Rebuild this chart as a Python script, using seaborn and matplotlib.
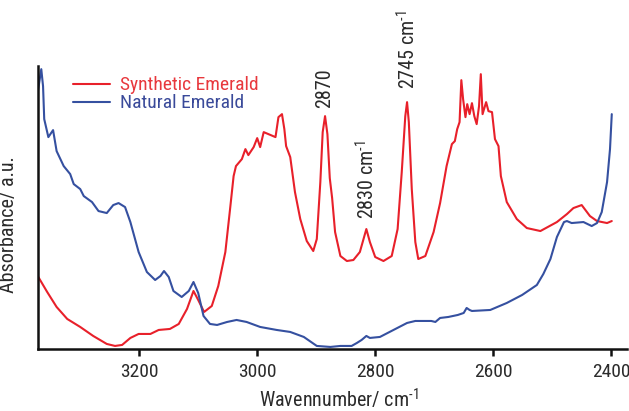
import matplotlib
matplotlib.use("Agg")
import matplotlib.pyplot as plt
from matplotlib import font_manager as fm
import seaborn as sns
import pandas as pd

# Synthetic emerald (red)
syn_wn = [3372, 3356, 3340, 3322, 3300, 3278, 3255, 3241, 3229, 3215, 3201, 3181, 3167, 3148,
          3133, 3119, 3108, 3100, 3090, 3077, 3066, 3054, 3046, 3040, 3036, 3026, 3020, 3015,
          3006, 3000, 2995, 2989, 2981, 2969, 2964, 2958, 2954, 2951, 2944, 2936, 2927, 2916,
          2905, 2899, 2893, 2889, 2885, 2881, 2877, 2873, 2868, 2859, 2848, 2837, 2826, 2815,
          2809, 2800, 2786, 2772, 2762, 2755, 2749, 2746, 2743, 2738, 2732, 2727, 2715, 2701,
          2690, 2679, 2670, 2665, 2661, 2657, 2654, 2651, 2647, 2644, 2640, 2636, 2632, 2628,
          2624, 2621, 2618, 2612, 2608, 2602, 2597, 2591, 2587, 2577, 2560, 2543, 2520, 2492,
          2475, 2464, 2450, 2436, 2424, 2407, 2399]
syn_abs = [72, 56, 41, 29, 21, 12, 4, 2, 3, 10, 14, 14, 18, 19,
           24, 39, 57, 48, 36, 42, 62, 96, 139, 172, 182, 189, 199, 193,
           201, 210, 201, 216, 214, 211, 231, 234, 219, 202, 191, 156, 129, 107,
           97, 109, 166, 216, 232, 214, 170, 150, 116, 92, 87, 88, 96, 119,
           106, 91, 87, 92, 119, 176, 232, 246, 226, 159, 106, 89, 92, 116,
           145, 182, 204, 207, 219, 226, 268, 249, 231, 244, 234, 245, 232, 224,
           242, 274, 234, 246, 237, 236, 209, 202, 172, 146, 129, 120, 117, 126,
           134, 140, 143, 132, 127, 125, 127]

# Natural emerald (blue)
nat_wn = [3372, 3366, 3363, 3361, 3354, 3346, 3340, 3328, 3317, 3311, 3300, 3294, 3280, 3269,
          3255, 3244, 3235, 3224, 3215, 3201, 3187, 3173, 3164, 3158, 3150, 3142, 3128, 3116,
          3108, 3100, 3091, 3080, 3068, 3051, 3035, 3018, 2995, 2967, 2944, 2921, 2899, 2876,
          2859, 2840, 2831, 2823, 2815, 2809, 2792, 2769, 2746, 2732, 2705, 2698, 2690, 2676,
          2660, 2650, 2645, 2640, 2636, 2605, 2577, 2551, 2526, 2515, 2503, 2492, 2480, 2475,
          2467, 2447, 2433, 2424, 2416, 2407, 2402, 2399]
nat_abs = [256, 279, 262, 229, 211, 218, 197, 182, 174, 164, 159, 152, 146, 137,
           135, 143, 145, 141, 126, 96, 76, 68, 72, 77, 71, 57, 51, 57,
           66, 55, 32, 24, 23, 26, 28, 26, 21, 18, 16, 11, 2, 1,
           2, 2, 5, 8, 12, 10, 11, 18, 25, 27, 27, 26, 30, 31,
           33, 35, 40, 38, 37, 38, 45, 53, 63, 74, 89, 111, 126, 127,
           125, 126, 122, 125, 136, 166, 199, 234]

tick_vals = [3200, 3000, 2800, 2600, 2400]
series_names = ["Synthetic Emerald", "Natural Emerald"]
annotations = [("2870", 2885, 240), (r"2830 cm$^{\text{-1}}$", 2814, 129),
               (r"2745 cm$^{\text{-1}}$", 2744, 259)]

sns.set_style("ticks")

# pick a condensed sans font if one is installed
pref = ["Roboto Condensed", "Liberation Sans Narrow", "Open Sans Condensed", "Noto Sans",
        "Open Sans", "Roboto", "DejaVu Sans"]
cond = [f for f in fm.fontManager.ttflist
        if ("condensed" in str(f.stretch).lower() or "narrow" in f.name.lower()
            or "condensed" in f.name.lower()) and f.style == "normal"]
chosen = None
for p in pref:
    for f in cond:
        if f.name == p:
            chosen = f
            break
    if chosen:
        break
if chosen is None and cond:
    chosen = cond[0]

if chosen is not None:
    fam = chosen.name
    plt.rcParams["font.family"] = [fam, "DejaVu Sans"]
    plt.rcParams["font.stretch"] = chosen.stretch
    fs_tick, fs_lab, fs_leg, fs_ann = 14, 14.5, 14, 14.5
else:
    fam = "Liberation Sans"
    plt.rcParams["font.family"] = [fam, "DejaVu Sans"]
    fs_tick, fs_lab, fs_leg, fs_ann = 12.5, 13, 12, 13
plt.rcParams["mathtext.fontset"] = "custom"
plt.rcParams["mathtext.rm"] = fam
plt.rcParams["mathtext.it"] = fam + ":italic"
plt.rcParams["mathtext.bf"] = fam + ":bold"

red = "#E8202A"
blue = "#3550A0"
txt = "#2b2b2b"

fig = plt.figure(figsize=(6.29, 4.11), dpi=100)
ax = fig.add_axes([0.06, 0.151, 0.937, 0.688])

df_syn = pd.DataFrame({"wn": syn_wn, "abs": syn_abs})
df_nat = pd.DataFrame({"wn": nat_wn, "abs": nat_abs})
sns.lineplot(data=df_syn, x="wn", y="abs", ax=ax, color=red, lw=1.5, label=series_names[0], sort=False)
sns.lineplot(data=df_nat, x="wn", y="abs", ax=ax, color=blue, lw=1.5, label=series_names[1], sort=False)

ax.set_xlim(3372, 2373)
ax.set_ylim(-1, 282)
ax.set_xticks(tick_vals)
ax.set_xticklabels([str(v) for v in tick_vals])
ax.set_yticks([])
for s in ["top", "right"]:
    ax.spines[s].set_visible(False)
for s in ["left", "bottom"]:
    ax.spines[s].set_linewidth(1.8)
    ax.spines[s].set_color("#111111")
ax.tick_params(axis="x", direction="out", length=5, width=1.8, color="#111111",
               labelsize=fs_tick, labelcolor=txt, pad=5)

ax.set_xlabel(r"Wavennumber/ cm$^{\text{-1}}$", fontsize=fs_lab, color=txt)
ax.xaxis.set_label_coords(0.51, -0.135)
ax.set_ylabel("Absorbance/ a.u.", fontsize=fs_lab, color=txt)
ax.yaxis.set_label_coords(-0.034, 0.44)

for label, x, y in annotations:
    ax.text(x, y, label, rotation=90, ha="center", va="bottom", fontsize=fs_ann, color=txt)

leg = ax.legend(loc="upper left", bbox_to_anchor=(0.06, 0.964), frameon=False, fontsize=fs_leg,
                handlelength=1.9, handletextpad=0.5, labelspacing=0.0, borderpad=0, borderaxespad=0)
for t, c in zip(leg.get_texts(), ["#E8383D", "#3A4A9A"]):
    t.set_color(c)

fig.savefig("out.png", dpi=100)
